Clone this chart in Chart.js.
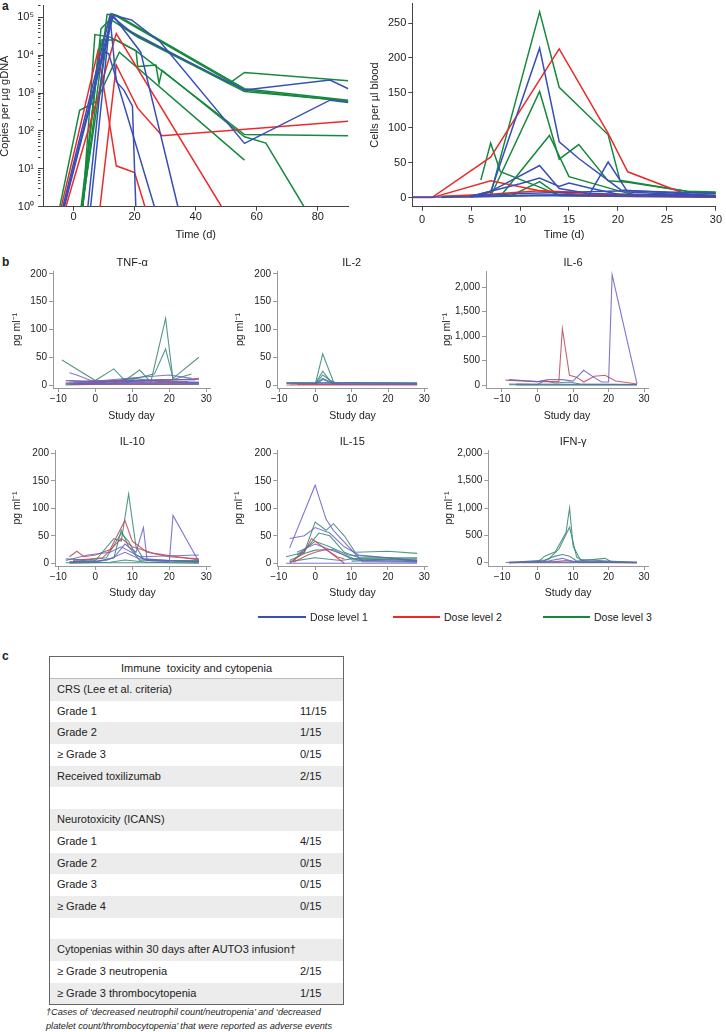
<!DOCTYPE html>
<html>
<head>
<meta charset="utf-8">
<script src="https://cdn.jsdelivr.net/npm/chart.js@4.4.1/dist/chart.umd.min.js"></script>
<style>
  body { margin: 0; background: #fff; }
  #page { position: relative; width: 726px; height: 1032px; overflow: hidden; font-family: "Liberation Sans", Arial, sans-serif; color: #222; }
  #page canvas { position: absolute; }
  .txt { position: absolute; white-space: nowrap; line-height: 1; }
  .panel { font-weight: bold; font-size: 12px; }
  .ctitle { font-size: 11px; transform: translate(-50%, -50%); }
  .key { position: absolute; height: 2px; }
  .keytxt { font-size: 10.5px; transform: translateY(-50%); }
  #tox { position: absolute; left: 49px; top: 656px; width: 295px; height: 349px; border: 1px solid #666; box-sizing: border-box; font-size: 11px; }
  #tox .head { height: 22px; line-height: 22px; text-align: center; border-bottom: 1px solid #bbb; box-sizing: border-box; }
  #tox .row { position: relative; height: 21.7px; line-height: 21.7px; padding-left: 7px; }
  #tox .row:nth-child(even) { background: #ececec; }
  #tox .val { position: absolute; left: 250px; top: 0; }
  #note { position: absolute; left: 46px; top: 1006px; font-size: 9.2px; font-style: italic; line-height: 13.6px; white-space: nowrap; }
</style>
</head>
<body>
<div id="page">
  <div class="txt panel" style="left:2px;top:0px">a</div>
  <div class="txt panel" style="left:2px;top:256px">b</div>
  <div class="txt panel" style="left:2px;top:650px">c</div>
  <div id="tox"></div>
  <div id="note">†Cases of ‘decreased neutrophil count/neutropenia’ and ‘decreased<br>platelet count/thrombocytopenia’ that were reported as adverse events</div>
</div>
<script>
// ---- panel a, left: vector copies per µg gDNA (day, copies) ----
const vcnDose1 = [
  [[-3.5, 1], [12, 1.2e5], [19, 8.5e4], [28.5, 2.2e4], [56, 47], [84, 650], [90, 560]],
  [[-3.2, 1], [12.5, 1.05e5], [20, 3.5e4], [56, 1.2e3], [84, 2.2e3], [90, 1.3e3]],
  [[5.6, 1], [12, 9e4], [14, 2e3], [16.5, 1.2e3], [19.3, 450], [20.4, 1]],
  [[4.7, 1], [10, 1.2e4], [11.5, 1.1e4], [26.5, 1]],
  [[-3, 1], [13, 1.1e5], [22, 1.2e4], [34.2, 1]]
];
const vcnDose2 = [
  [[-4, 1], [8, 1.3e4], [14, 12], [20, 8], [23.4, 1]],
  [[8.7, 1], [14, 5.5e3], [21, 400], [29, 75], [90, 180]],
  [[-2.5, 1], [14, 3.7e4], [48.5, 1]]
];
const vcnDose3 = [
  [[3, 1], [8, 1e4], [12.5, 1.25e5], [14.5, 1.1e5], [56, 1.3e3], [90, 650]],
  [[3, 1], [9, 5e4], [13, 1.05e5], [17, 5e4], [51, 1.8e3], [56, 3.5e3], [90, 2.1e3]],
  [[3, 1], [7, 3.5e4], [12, 3e4], [20.5, 1.3e4], [56, 80], [90, 75]],
  [[-4.5, 1], [2, 350], [7.5, 600], [15, 1.2e4], [56, 17]],
  [[2.5, 1], [9, 2.5e4], [14, 2.5e4], [20.5, 1.3e4], [21, 5e3], [27, 5.5e3], [28, 1.8e3], [29, 4e3], [56, 70], [63, 48], [75.5, 1]],
  [[3, 1], [11, 1.2e5], [13.5, 1.15e5], [56, 1.2e3], [90, 600]],
  [[2.8, 1], [12, 9e4], [21, 3e4], [56, 1.1e3], [90, 620]]
];
const vcnTicks = [1, 2, 3, 4, 5, 6, 7, 8, 9, 10, 20, 30, 40, 50, 60, 70, 80, 90, 100, 200, 300, 400, 500, 600, 700, 800, 900,
  1000, 2000, 3000, 4000, 5000, 6000, 7000, 8000, 9000, 10000, 20000, 30000, 40000, 50000, 60000, 70000, 80000, 90000, 100000, 200000];
const vcnDecades = [1, 10, 100, 1000, 10000, 100000];
const vcnDecadeLabels = ['10⁰', '10¹', '10²', '10³', '10⁴', '10⁵'];
const vcnDayTicks = [0, 20, 40, 60, 80];

// ---- panel a, right: CAR T cells per µl blood (day, cells) ----
const cellsDose1 = [
  [[5, 1], [7, 8], [12, 214], [14, 80], [16, 56], [20.3, 11], [30, 3]],
  [[5, 2], [7, 9], [12, 46], [14, 13], [17, 6], [30, 2]],
  [[10, 3], [15, 4], [17, 3], [19, 51], [21, 8], [30, 2]],
  [[5, 2], [10, 20], [12, 28], [14, 16], [15, 21], [17, 14], [20, 5], [30, 3]],
  [[-1, 1], [5, 1], [12, 3], [20, 2], [30, 1]],
  [[5, 2], [10, 6], [21, 10], [30, 6]]
];
const cellsDose2 = [
  [[-1, 0], [1, 0], [7, 58], [14, 213], [19, 92], [21, 37], [27.5, 2], [30, 1]],
  [[1, 0], [7, 24], [12, 10], [14, 7], [19, 2], [30, 1]],
  [[2, 2], [7, 5], [12, 10], [15, 8], [20, 3], [30, 1]]
];
const cellsDose3 = [
  [[2, 0], [7, 5], [12, 266], [14, 158], [19, 90], [20.2, 25], [21, 23], [27, 9], [30, 8]],
  [[7, 2], [12, 152], [14, 55], [16, 76], [19, 24], [21, 22], [28, 7], [30, 7]],
  [[6, 25], [7, 78], [8, 37], [12, 15], [14, 3], [20, 2]],
  [[8, 2], [13, 89], [15, 30], [20, 10], [22, 3]],
  [[9, 2], [12, 23], [14, 3], [30, 2]],
  [[2, 1], [10, 3], [20, 4], [30, 3]]
];
const cellTicks = [0, 50, 100, 150, 200, 250];
const cellDayTicks = [0, 5, 10, 15, 20, 25, 30];

// ---- panel b: serum cytokines, pg/ml (study day, value) ----
const tnfDose1 = [
  [[-7, 22], [-5, 18], [0, 5], [10, 8], [20, 10], [28, 10]],
  [[-8, 8], [0, 6], [8, 6], [18, 10], [27, 9]],
  [[-6, 3], [5, 10], [12, 14], [20, 18], [26, 12]],
  [[-8, 2], [28, 3]],
  [[-7, 4], [3, 2], [12, 6], [28, 5]]
];
const tnfDose2 = [
  [[-8, 5], [0, 8], [10, 8], [20, 8], [28, 12]],
  [[-6, 3], [5, 6], [15, 4], [25, 6]],
  [[-7, 1], [28, 2]]
];
const tnfDose3 = [
  [[-9, 45], [0, 8], [5, 29], [8, 8], [12, 27], [15, 5], [19, 120], [21, 10], [26, 20]],
  [[-7, 8], [0, 5], [10, 10], [16, 20], [19, 65], [21, 12], [28, 50]],
  [[-8, 2], [0, 3], [10, 12], [20, 5], [28, 5]],
  [[-6, 1], [4, 4], [14, 8], [28, 4]],
  [[-8, 0], [5, 2], [15, 1], [28, 1]]
];
const il2Dose1 = [[[-8, 4], [28, 3]], [[0, 1], [2, 10], [5, 2], [28, 1]]];
const il2Dose2 = [[[-8, 0], [28, 0]], [[-5, 1], [28, 1]]];
const il2Dose3 = [
  [[-8, 3], [0, 3], [2, 56], [5, 5], [28, 3]],
  [[0, 3], [2, 25], [4, 8], [6, 3]],
  [[0, 2], [2, 18], [5, 4]],
  [[-7, 2], [28, 2]],
  [[-8, 4], [28, 4]],
  [[0, 2], [2, 12], [5, 3], [8, 1]]
];
const il6Dose1 = [
  [[-8, 110], [0, 70], [3, 110], [7, 110], [10, 80], [13, 300], [16, 150], [18, 60], [20, 60], [21, 2250], [28, 30]],
  [[-6, 20], [28, 10]]
];
const il6Dose2 = [
  [[-9, 100], [0, 70], [6, 70], [7, 1150], [9, 200], [11, 160], [13, 60], [16, 180], [19, 200], [22, 80], [28, 20]]
];
const il6Dose3 = [
  [[-8, 20], [0, 10], [2, 90], [5, 40], [9, 60], [12, 20], [28, 10]],
  [[-8, 5], [28, 5]],
  [[-6, 0], [28, 0]]
];
const il10Dose1 = [
  [[-7, 3], [0, 3], [5, 10], [8, 35], [11, 20], [13, 65], [14, 5], [20, 3], [21, 87], [28, 3]],
  [[-8, 5], [-2, 15], [4, 20], [7, 30], [12, 12], [28, 15]],
  [[-6, 2], [3, 5], [8, 20], [12, 8], [28, 2]]
];
const il10Dose2 = [
  [[-7, 12], [-5, 22], [-3, 12], [0, 15], [4, 25], [8, 78], [10, 40], [14, 20], [20, 12], [28, 8]],
  [[-6, 5], [2, 10], [7, 45], [10, 30], [16, 18], [24, 10], [28, 6]]
];
const il10Dose3 = [
  [[-8, 8], [0, 5], [5, 45], [7, 40], [9, 126], [11, 30], [13, 8], [20, 5], [28, 3]],
  [[-6, 3], [3, 10], [7, 55], [9, 40], [11, 15], [14, 5], [28, 5]],
  [[-7, 2], [0, 2], [5, 10], [7, 60], [9, 30], [12, 5], [28, 3]],
  [[-8, 1], [28, 1]],
  [[-7, 0], [4, 2], [8, 6], [14, 2], [28, 0]]
];
const il15Dose1 = [
  [[-7, 28], [0, 142], [3, 80], [5, 60], [13, 3], [28, 2]],
  [[-7, 45], [-3, 50], [0, 65], [4, 55], [8, 30], [12, 15], [28, 5]],
  [[-8, 0], [8, 0], [28, 0]],
  [[-5, 20], [0, 35], [6, 20], [12, 5], [28, 3]]
];
const il15Dose2 = [
  [[-7, 0], [-3, 20], [-1, 45], [2, 30], [5, 15], [8, 0]],
  [[-6, 2], [-2, 15], [0, 20], [3, 25], [6, 12], [8, 8]]
];
const il15Dose3 = [
  [[-8, 12], [-3, 20], [0, 75], [3, 60], [5, 72], [8, 50], [11, 20], [20, 22], [28, 18]],
  [[-6, 5], [-2, 30], [1, 55], [4, 50], [8, 20], [12, 10], [28, 10]],
  [[-7, 5], [-3, 18], [0, 24], [5, 25], [10, 8], [28, 5]],
  [[-7, 3], [0, 10], [7, 5], [10, 8], [28, 8]],
  [[-5, 15], [0, 40], [4, 30], [9, 15], [20, 10], [28, 3]],
  [[10, 4], [20, 6], [28, 6]]
];
const ifnDose1 = [[[-8, 10], [28, 10]], [[-8, 0], [3, 30], [7, 80], [10, 20], [28, 0]]];
const ifnDose2 = [[[-8, 0], [5, 20], [8, 40], [12, 10], [28, 0]]];
const ifnDose3 = [
  [[-9, 5], [0, 10], [2, 120], [5, 200], [8, 550], [9, 1000], [10, 300], [12, 60], [28, 5]],
  [[0, 5], [3, 60], [6, 250], [9, 650], [11, 100], [13, 30], [28, 5]],
  [[-8, 5], [2, 50], [5, 120], [7, 150], [9, 120], [11, 30], [19, 80], [21, 10], [28, 5]],
  [[-8, 0], [28, 0]]
];
const studyDayTicks = [-10, 0, 10, 20, 30];
const studyDayLabels = ['−10', '0', '10', '20', '30'];
const pgTicks = [0, 50, 100, 150, 200];
const pgBigTicks = [0, 500, 1000, 1500, 2000];
const pgBigLabels = ['0', '500', '1,000', '1,500', '2,000'];

const doseNames = ['Dose level 1', 'Dose level 2', 'Dose level 3'];

// ---- panel c table ----
const toxLabels = ['CRS (Lee et al. criteria)', 'Grade 1', 'Grade 2', '≥ Grade 3', 'Received toxilizumab', '',
  'Neurotoxicity (ICANS)', 'Grade 1', 'Grade 2', 'Grade 3', '≥ Grade 4', '',
  'Cytopenias within 30 days after AUTO3 infusion†', '≥ Grade 3 neutropenia', '≥ Grade 3 thrombocytopenia'];
const toxCounts = ['', '11/15', '1/15', '0/15', '2/15', '', '', '4/15', '0/15', '0/15', '0/15', '', '', '2/15', '1/15'];

Chart.defaults.font.family = "'Liberation Sans', Arial, sans-serif";
Chart.defaults.color = '#222';

const page = document.getElementById('page');
const doseColors = ['#3a4fb5', '#ec2a2a', '#17893f'];
const fadedColors = ['rgba(104,96,196,0.85)', 'rgba(194,69,90,0.85)', 'rgba(52,134,118,0.85)'];

function lineSets(groups, colors, width) {
  const out = [];
  groups.forEach((g, gi) => g.forEach(pts => out.push({
    data: pts, borderColor: colors[gi], borderWidth: width,
    pointRadius: 0, tension: 0, fill: false
  })));
  return out;
}

function axis(o, fit) {
  const isMajor = v => !o.major || o.major.includes(v);
  return {
    type: o.type || 'linear', min: o.min, max: o.max,
    afterBuildTicks: ax => { ax.ticks = o.ticks.map(v => ({ value: v })); },
    afterFit: fit,
    grid: {
      display: true, drawOnChartArea: false, drawTicks: true, tickLength: o.tickLen, tickColor: o.color, tickWidth: 1,
      // minor ticks on the log axis are drawn at half length
      tickBorderDash: ctx => (ctx.tick && !isMajor(ctx.tick.value) ? [o.tickLen / 2, 20] : [])
    },
    border: { display: true, color: o.color, width: 1 },
    ticks: {
      autoSkip: false, maxRotation: 0, minRotation: 0, padding: o.pad, color: '#222',
      font: { size: o.font, lineHeight: 1 },
      callback: (v, i) => {
        if (o.major) { const k = o.major.indexOf(v); return k < 0 ? '' : o.labels[k]; }
        return o.labels ? o.labels[i] : String(v);
      }
    },
    title: { display: true, text: o.title, color: '#222', font: { size: o.titleFont, lineHeight: 1 }, padding: o.titlePad }
  };
}

// box = canvas rectangle, area = wanted chart area, titles at absolute page positions
function addChart(box, area, xo, yo, datasets) {
  const cv = document.createElement('canvas');
  cv.width = box.w; cv.height = box.h;
  cv.style.left = box.x + 'px'; cv.style.top = box.y + 'px';
  page.appendChild(cv);
  const yw = area.l - box.x;
  const xh = box.y + box.h - area.b;
  xo.titlePad = { top: 0, bottom: Math.max(0, box.y + box.h - xo.titleAt - xo.titleFont / 2) };
  yo.titlePad = { top: Math.max(0, yo.titleAt - box.x - yo.titleFont / 2), bottom: 0 };
  return new Chart(cv, {
    type: 'line',
    data: { datasets },
    options: {
      responsive: false, animation: false, events: [],
      layout: { padding: { left: 0, top: area.t - box.y, right: box.x + box.w - area.r, bottom: 0 } },
      plugins: { legend: { display: false }, tooltip: { enabled: false } },
      scales: {
        x: axis(xo, s => { s.height = xh; }),
        y: axis(yo, s => { s.width = yw; })
      }
    }
  });
}

// panel a
addChart({ x: -1, y: -4, w: 355, h: 245 }, { l: 43, t: 3, r: 348.3, b: 206.7 },
  { min: -10, max: 90, ticks: vcnDayTicks, tickLen: 4, pad: 1, font: 11, color: '#444', title: 'Time (d)', titleFont: 11, titleAt: 235 },
  { type: 'logarithmic', min: 1, max: 2.05e5, ticks: vcnTicks, major: vcnDecades, labels: vcnDecadeLabels, tickLen: 5, pad: 4, font: 11, color: '#444', title: 'Copies per µg gDNA', titleFont: 11, titleAt: 5 },
  lineSets([vcnDose1, vcnDose2, vcnDose3], doseColors, 1.5));

addChart({ x: 360, y: -4, w: 366, h: 245 }, { l: 412.3, t: 3, r: 720, b: 206.7 },
  { min: -1, max: 30, ticks: cellDayTicks, tickLen: 4, pad: 4, font: 11, color: '#444', title: 'Time (d)', titleFont: 11, titleAt: 235 },
  { min: -13, max: 278, ticks: cellTicks, tickLen: 4, pad: 2, font: 11, color: '#444', title: 'Cells per µl blood', titleFont: 11, titleAt: 375 },
  lineSets([cellsDose1, cellsDose2, cellsDose3], doseColors, 1.5));

// panel b
const cyto = [
  { name: 'TNF-α', box: { x: 0, y: 264, w: 214, h: 158 }, area: { l: 53, t: 271, r: 210, b: 388 }, x: [-11.43, 31], y: [-5.4, 205.4], big: false, yt: 17, xt: 416, sets: [tnfDose1, tnfDose2, tnfDose3] },
  { name: 'IL-2', box: { x: 222, y: 264, w: 210, h: 158 }, area: { l: 277, t: 271, r: 428, b: 388 }, x: [-10.6, 31], y: [-5.4, 205.4], big: false, yt: 240, xt: 416, sets: [il2Dose1, il2Dose2, il2Dose3] },
  { name: 'IL-6', box: { x: 436, y: 264, w: 216, h: 158 }, area: { l: 486, t: 271, r: 648, b: 388 }, x: [-14.5, 31.1], y: [-61, 2327], big: true, yt: 447, xt: 416, sets: [il6Dose1, il6Dose2, il6Dose3] },
  { name: 'IL-10', box: { x: 0, y: 442, w: 214, h: 157 }, area: { l: 55, t: 450, r: 210, b: 566 }, x: [-10.9, 31], y: [-4.9, 206], big: false, yt: 17, xt: 593, sets: [il10Dose1, il10Dose2, il10Dose3] },
  { name: 'IL-15', box: { x: 222, y: 442, w: 210, h: 157 }, area: { l: 277.3, t: 450, r: 429, b: 566 }, x: [-10.4, 30.9], y: [-4.9, 206], big: false, yt: 239, xt: 593, sets: [il15Dose1, il15Dose2, il15Dose3] },
  { name: 'IFN-γ', box: { x: 436, y: 442, w: 216, h: 157 }, area: { l: 488.3, t: 450, r: 648, b: 566 }, x: [-13.9, 31.1], y: [-60, 2060], big: true, yt: 449, xt: 593, sets: [ifnDose1, ifnDose2, ifnDose3] }
];

cyto.forEach(c => {
  addChart(c.box, c.area,
    { min: c.x[0], max: c.x[1], ticks: studyDayTicks, labels: studyDayLabels, tickLen: 4, pad: 2, font: 10, color: '#999', title: 'Study day', titleFont: 10.5, titleAt: c.xt },
    { min: c.y[0], max: c.y[1], ticks: c.big ? pgBigTicks : pgTicks, labels: c.big ? pgBigLabels : null, tickLen: 4, pad: 2, font: 10, color: '#999', title: 'pg ml⁻¹', titleFont: 10.5, titleAt: c.yt },
    lineSets(c.sets, fadedColors, 1.1));
  // chart heading, centred over study days -10..30
  const x0 = c.area.l + (c.area.r - c.area.l) * (10 - c.x[0]) / (c.x[1] - c.x[0]);
  const t = document.createElement('div');
  t.className = 'txt ctitle';
  t.style.left = x0 + 'px';
  t.style.top = (c.area.t - 9) + 'px';
  t.textContent = c.name;
  page.appendChild(t);
});

// legend
const keyX = [[258, 310], [393, 444], [543, 594]];
doseNames.forEach((n, i) => {
  const ln = document.createElement('div');
  ln.className = 'key';
  ln.style.cssText = 'left:' + keyX[i][0] + 'px;top:616px;width:' + (keyX[i][1] - keyX[i][0] - 4) + 'px;background:' + doseColors[i];
  page.appendChild(ln);
  const tx = document.createElement('div');
  tx.className = 'txt keytxt';
  tx.style.left = keyX[i][1] + 'px';
  tx.style.top = '617px';
  tx.textContent = n;
  page.appendChild(tx);
});

// table
const tox = document.getElementById('tox');
const head = document.createElement('div');
head.className = 'head';
head.innerHTML = 'Immune&nbsp; toxicity and cytopenia';
tox.appendChild(head);
toxLabels.forEach((lab, i) => {
  const r = document.createElement('div');
  r.className = 'row';
  r.textContent = lab;
  if (toxCounts[i]) {
    const v = document.createElement('span');
    v.className = 'val';
    v.textContent = toxCounts[i];
    r.appendChild(v);
  }
  tox.appendChild(r);
});
</script>
</body>
</html>
